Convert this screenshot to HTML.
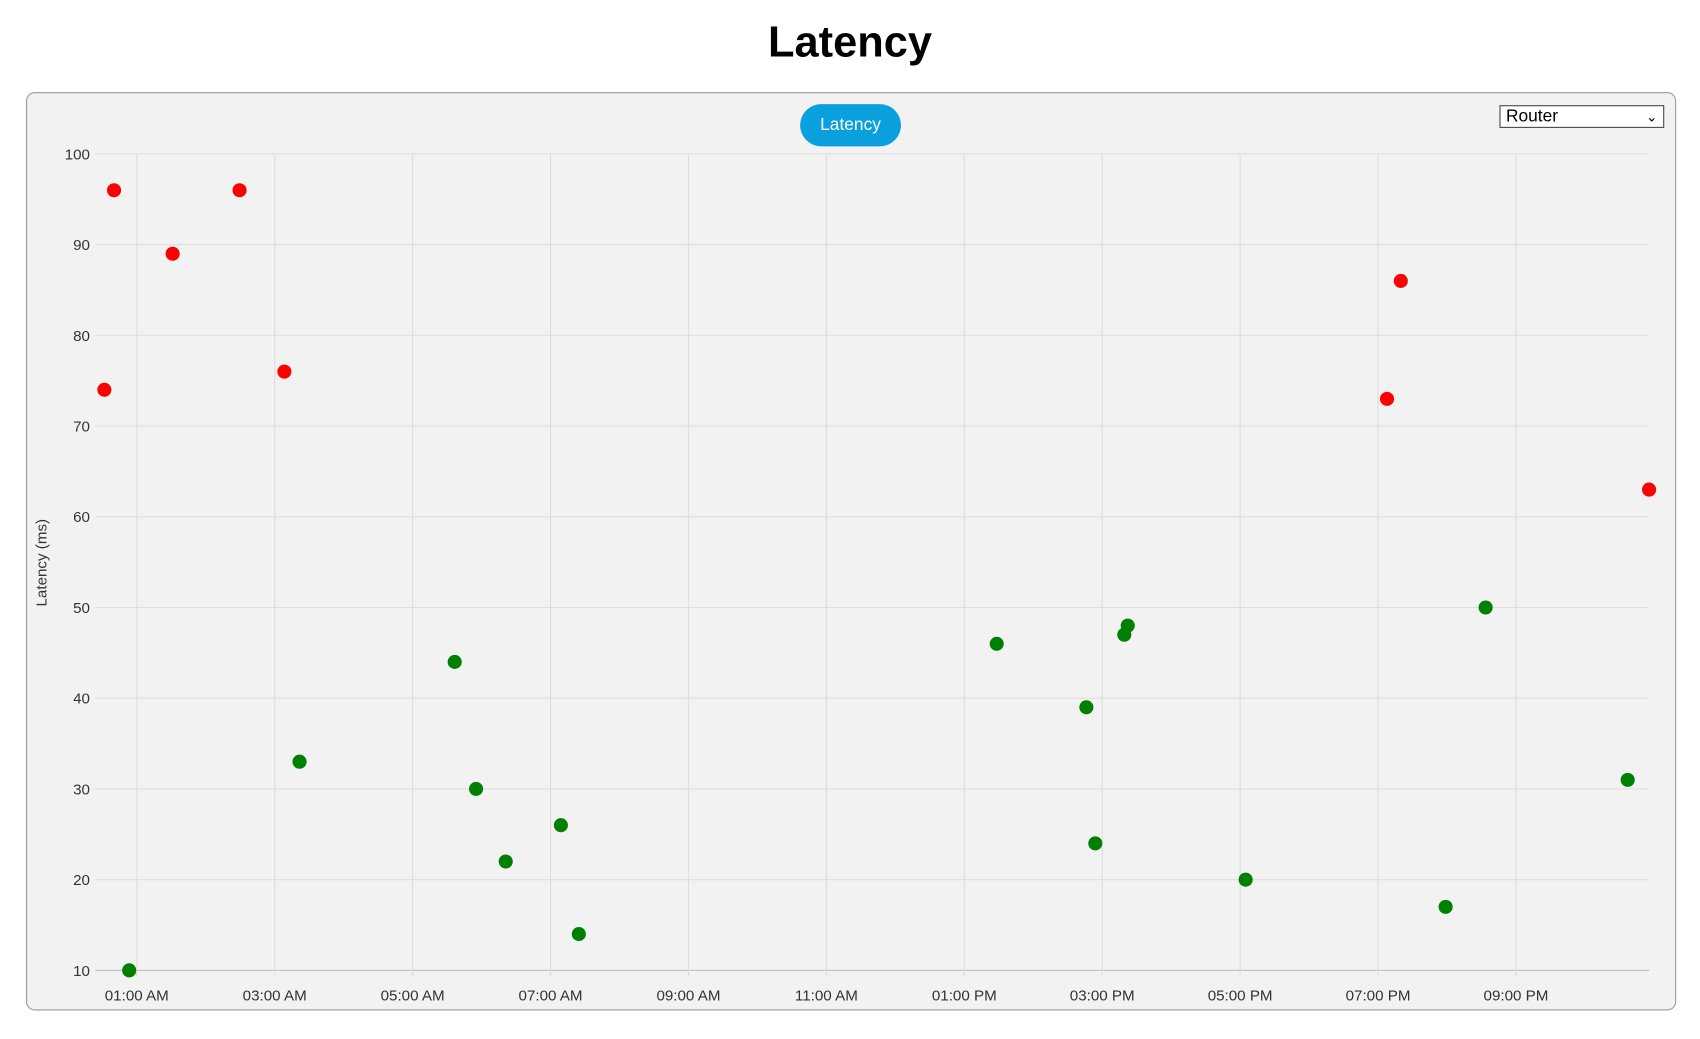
<!DOCTYPE html>
<html><head><meta charset="utf-8"><style>
html,body{margin:0;padding:0;background:#fff;width:1700px;height:1039px;overflow:hidden}
#wrap{position:absolute;left:0;top:0;width:1568px;height:958px;transform:scale(1.0842);transform-origin:0 0;font-family:"Liberation Sans",sans-serif}
#title{position:absolute;left:0;width:1568px;top:17px;text-align:center;font-size:40px;font-weight:bold;color:#000}
#panel{position:absolute;left:24px;top:85px;width:1520px;height:845px;border:1px solid #999;border-radius:8px;background:#f1f2f1}
#pill{position:absolute;left:738px;top:96px;width:93px;height:39px;border-radius:20px;background:#0a9fdd;color:#fff;font-size:16px;line-height:39px;text-align:center}
#sel{position:absolute;left:1383px;top:97px;width:152px;height:21px;border:1px solid #444;background:#fff;font-size:16px;line-height:20px;padding-left:5px;box-sizing:border-box}
svg{position:absolute;left:0;top:0}
</style></head><body>
<div id="wrap">
<div id="title">Latency</div>
<div id="panel"></div>
<div id="pill">Latency</div>
<div id="sel">Router<span style="position:absolute;right:5px;top:0;font-size:13px">&#8964;</span></div>
<svg id="chart" width="1568" height="958"></svg>
</div>
<script>
const hours=[0.53,0.67,1.52,2.49,3.14,19.13,19.33,22.93,0.89,3.36,5.61,5.92,6.35,7.15,7.41,13.47,14.77,14.90,15.32,15.37,17.08,19.98,20.56,22.62];
const latency=[74,96,89,96,76,73,86,63,10,33,44,30,22,26,14,46,39,24,47,48,20,17,50,31];
const yTicks=[10,20,30,40,50,60,70,80,90,100];
const xTickHours=[1,3,5,7,9,11,13,15,17,19,21];
const xTickLabels=["01:00 AM","03:00 AM","05:00 AM","07:00 AM","09:00 AM","11:00 AM","01:00 PM","03:00 PM","05:00 PM","07:00 PM","09:00 PM"];
const L=88,R=1521,T=142,B=895,x0=0.4,x1=22.93;
const X=h=>L+(h-x0)/(x1-x0)*(R-L);
const Y=v=>B-(v-10)/90*(B-T);
const svg=document.getElementById('chart');const NS='http://www.w3.org/2000/svg';
function mk(t,a){const e=document.createElementNS(NS,t);for(const k in a)e.setAttribute(k,a[k]);svg.appendChild(e);return e;}
yTicks.forEach(v=>{
 const g=mk('line',{x1:L,x2:R,y1:Y(v),y2:Y(v),stroke:v===10?'#bbb':'#ddd','stroke-width':1});
 
 
 const t=mk('text',{x:83,y:Y(v)+5,'text-anchor':'end','font-size':14,fill:'#333'});t.textContent=v;
 
 
});
xTickHours.forEach((h,i)=>{
 const g=mk('line',{x1:X(h),x2:X(h),y1:T,y2:B+5,stroke:'#ddd','stroke-width':1});
 
 
 const t=mk('text',{x:X(h),y:B+28,'text-anchor':'middle','font-size':14,fill:'#333'});t.textContent=xTickLabels[i];
 
 
});
const yl=mk('text',{x:0,y:0,transform:'translate(43,519) rotate(-90)','text-anchor':'middle','font-size':14,fill:'#333'});yl.textContent='Latency (ms)';


hours.forEach((h,i)=>{
 const c=mk('circle',{cx:X(h),cy:Y(latency[i]),r:6.5,fill:latency[i]>=60?'#ff0000':'#008000'});
 
 
});
</script>
</body></html>
